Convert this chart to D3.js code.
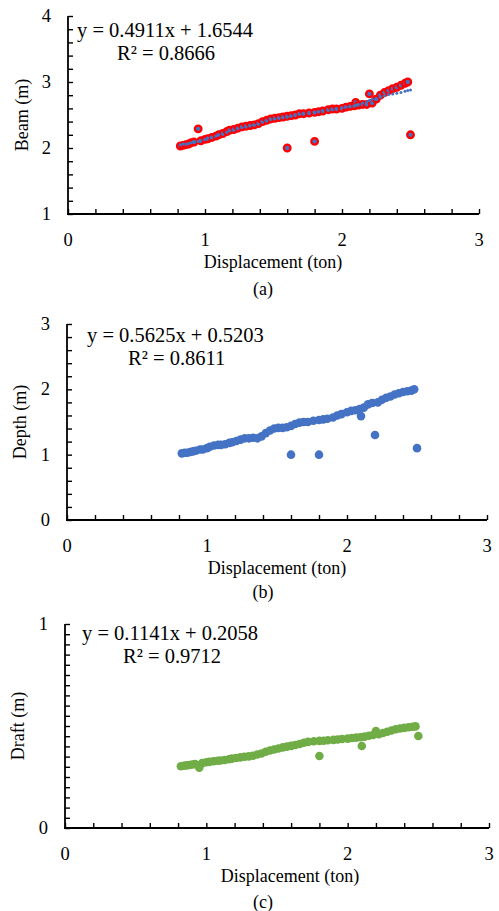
<!DOCTYPE html>
<html>
<head>
<meta charset="utf-8">
<script src="https://cdn.jsdelivr.net/npm/d3@7"></script>
<style>
  body { margin: 0; background: #fff; }
</style>
</head>
<body>
<div id="chart"></div>
<script>
// shared displacement values (ton)
var displacement = [0.82,0.84,0.86,0.88,0.90,0.92,0.95,0.97,1.00,1.02,1.05,1.08,1.10,1.13,1.16,1.18,1.21,1.24,1.27,1.30,
  1.33,1.36,1.39,1.42,1.45,1.48,1.51,1.54,1.57,1.60,1.60,1.63,1.66,1.69,1.72,1.76,1.80,1.80,1.83,1.86,
  1.90,1.93,1.96,2.00,2.03,2.06,2.09,2.10,2.12,2.15,2.18,2.20,2.22,2.25,2.28,2.31,2.34,2.37,2.40,2.43,
  2.46,2.48,2.50];
// beam (m), red-ringed markers
var beam = [2.03,2.04,2.05,2.06,2.08,2.09,2.29,2.11,2.13,2.14,2.16,2.18,2.20,2.22,2.25,2.27,2.28,2.30,2.32,2.33,
  2.34,2.35,2.37,2.40,2.42,2.44,2.45,2.46,2.47,2.00,2.48,2.49,2.50,2.52,2.52,2.53,2.10,2.54,2.55,2.56,
  2.58,2.59,2.59,2.60,2.62,2.63,2.64,2.69,2.65,2.66,2.66,2.82,2.68,2.74,2.80,2.84,2.87,2.90,2.92,2.95,
  2.98,3.00,2.20];
// beam (m), small dots
var beamDots = [2.05,2.06,2.06,2.07,2.08,2.09,2.10,2.11,2.13,2.15,2.16,2.18,2.20,2.21,2.24,2.26,2.27,2.29,2.31,2.32,
  2.34,2.35,2.36,2.39,2.41,2.43,2.44,2.45,2.46,2.47,2.47,2.48,2.50,2.51,2.52,2.53,2.53,2.54,2.55,2.56,
  2.57,2.58,2.59,2.61,2.62,2.63,2.64,2.65,2.66,2.68,2.70,2.72,2.74,2.75,2.77,2.79,2.81,2.82,2.83,2.84,
  2.86,2.87,2.88];
// depth (m)
var depth = [1.02,1.03,1.03,1.04,1.05,1.06,1.08,1.08,1.10,1.12,1.14,1.15,1.15,1.16,1.18,1.19,1.21,1.23,1.25,1.25,
  1.26,1.25,1.28,1.33,1.37,1.40,1.41,1.41,1.42,1.00,1.44,1.47,1.49,1.50,1.50,1.52,1.00,1.53,1.54,1.55,
  1.57,1.60,1.62,1.65,1.67,1.68,1.70,1.59,1.72,1.77,1.79,1.30,1.80,1.84,1.87,1.89,1.92,1.94,1.96,1.97,
  1.98,2.00,1.10];
// draft (m)
var draft = [0.303,0.305,0.307,0.309,0.311,0.313,0.296,0.318,0.322,0.324,0.327,0.330,0.331,0.333,0.337,0.340,0.343,0.346,0.349,0.351,
  0.354,0.360,0.365,0.374,0.380,0.385,0.390,0.395,0.399,0.402,0.403,0.407,0.412,0.418,0.422,0.425,0.353,0.427,0.428,0.430,
  0.432,0.434,0.436,0.438,0.441,0.443,0.445,0.402,0.448,0.452,0.456,0.475,0.460,0.466,0.472,0.478,0.484,0.488,0.491,0.494,
  0.496,0.498,0.451];

var xTicks = [0, 1, 2, 3];
var svg = d3.select("#chart").append("svg")
  .attr("width", 499).attr("height", 911)
  .attr("font-family", "'Liberation Serif', 'Times New Roman', 'DejaVu Serif', serif");

function drawPanel(p) {
  var x = d3.scaleLinear().domain([0, 3]).range([p.left, p.right]);
  var y = d3.scaleLinear().domain(p.yDomain).range([p.bottom, p.top]);
  var g = svg.append("g");

  // minor ticks (inside)
  var xMinor = d3.range(0, 3.0001, 0.2);
  var yMinor = d3.range(p.yDomain[0], p.yDomain[1] + 1e-6, p.yMinorStep);

  g.append("g").attr("transform", "translate(0," + p.bottom + ")")
    .call(d3.axisBottom(x).tickValues(xMinor).tickSize(-5).tickFormat(""))
    .call(s => s.select(".domain").remove())
    .call(s => s.selectAll("line").attr("stroke", "#000").attr("stroke-width", 1.4));
  g.append("g").attr("transform", "translate(" + p.left + ",0)")
    .call(d3.axisLeft(y).tickValues(yMinor).tickSize(-5).tickFormat(""))
    .call(s => s.select(".domain").remove())
    .call(s => s.selectAll("line").attr("stroke", "#000").attr("stroke-width", 1.4));

  // axis lines
  g.append("line").attr("x1", p.left).attr("x2", p.left).attr("y1", p.top).attr("y2", p.bottom + 1)
    .attr("stroke", "#000").attr("stroke-width", 1.8);
  g.append("line").attr("x1", p.left - 1).attr("x2", p.right).attr("y1", p.bottom).attr("y2", p.bottom)
    .attr("stroke", "#000").attr("stroke-width", 1.8);

  // tick labels
  g.selectAll(".xl").data(xTicks).enter().append("text")
    .attr("x", d => x(d)).attr("y", p.bottom + 32)
    .attr("text-anchor", "middle").attr("font-size", 18.5).text(d => d);
  g.selectAll(".yl").data(p.yTicks).enter().append("text")
    .attr("x", p.left - 17).attr("y", d => y(d) + 6)
    .attr("text-anchor", "end").attr("font-size", 18.5).text(d => d);

  // points
  p.series.forEach(function(s) {
    g.append("g").selectAll("circle").data(displacement).enter().append("circle")
      .attr("cx", d => x(d)).attr("cy", (d, i) => y(s.values[i]))
      .attr("r", s.r).attr("fill", s.fill)
      .attr("stroke", s.stroke || "none").attr("stroke-width", s.strokeWidth || 0);
  });

  // titles
  g.append("text").attr("x", p.xTitleX).attr("y", p.bottom + 54)
    .attr("text-anchor", "middle").attr("font-size", 18).text("Displacement (ton)");
  g.append("text").attr("transform", "translate(" + p.yTitleX + "," + ((p.top + p.bottom) / 2) + ") rotate(-90)")
    .attr("text-anchor", "middle").attr("font-size", 18).text(p.yTitle);
  g.append("text").attr("x", 263).attr("y", p.captionY)
    .attr("text-anchor", "middle").attr("font-size", 18).text(p.caption);

  // trendline equation
  g.append("text").attr("x", p.eqX).attr("y", p.eqY + 7).attr("font-size", 20.5).text(p.eq);
  g.append("text").attr("x", p.r2X).attr("y", p.eqY + 30).attr("font-size", 20.5).text(p.r2);
}

drawPanel({
  left: 68, right: 479, top: 16, bottom: 214,
  yDomain: [1, 4], yTicks: [1, 2, 3, 4], yMinorStep: 0.2,
  yTitle: "Beam (m)", yTitleX: 28, xTitleX: 273, caption: "(a)", captionY: 295,
  eq: "y = 0.4911x + 1.6544", r2: "R\u00b2 = 0.8666", eqX: 77, r2X: 117, eqY: 30,
  series: [
    { values: beam, r: 3.3, fill: "#4472C4", stroke: "#FF0000", strokeWidth: 2.3 },
    { values: beamDots, r: 1.5, fill: "#4472C4" }
  ]
});

drawPanel({
  left: 67, right: 487, top: 324, bottom: 520,
  yDomain: [0, 3], yTicks: [0, 1, 2, 3], yMinorStep: 0.2,
  yTitle: "Depth (m)", yTitleX: 26, xTitleX: 277, caption: "(b)", captionY: 598,
  eq: "y = 0.5625x + 0.5203", r2: "R\u00b2 = 0.8611", eqX: 87, r2X: 128, eqY: 335,
  series: [ { values: depth, r: 4.3, fill: "#4472C4" } ]
});

drawPanel({
  left: 65, right: 489, top: 624, bottom: 828,
  yDomain: [0, 1], yTicks: [0, 1], yMinorStep: 0.05,
  yTitle: "Draft (m)", yTitleX: 24, xTitleX: 290, caption: "(c)", captionY: 908,
  eq: "y = 0.1141x + 0.2058", r2: "R\u00b2 = 0.9712", eqX: 82, r2X: 123, eqY: 633,
  series: [ { values: draft, r: 4.3, fill: "#70AD47" } ]
});
</script>
</body>
</html>
